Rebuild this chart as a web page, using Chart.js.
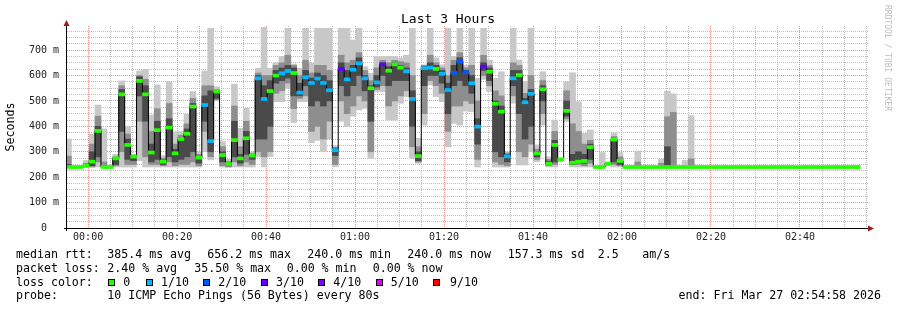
<!DOCTYPE html>
<html lang="en">
<head>
<meta charset="UTF-8">
<title>Last 3 Hours</title>
<style>
  html, body { margin: 0; padding: 0; background: #fff; }
  #wrap { position: relative; width: 897px; height: 310px; }
</style>
</head>
<body>
<div id="wrap"><canvas id="chart" width="897" height="310"></canvas></div>
<script src="https://cdn.jsdelivr.net/npm/chart.js@4"></script>
<script>
// one probe column every 80 s, first column centred at 23:55:33 (minutes relative to 00:00)
const firstColMin = -4.45;
const stepMin = 80 / 60;
const _ = null;

// median rtt per column (ms)
const medianMs = [
  240, 240, 240, 245, 261, 382, 240, 240, 274, 526,
  327, 281, 579, 526, 297, 385, 261, 395, 294, 350,
  371, 478, 277, 484, 342, 537, 287, 252, 346, 274,
  353, 285, 589, 508, 539, 600, 609, 618, 610, 533,
  593, 571, 588, 571, 542, 306, 626, 585, 623, 648,
  589, 550, 573, 644, 619, 644, 631, 617, 508, 283,
  629, 631, 626, 607, 543, 611, 655, 613, 570, 399,
  635, 615, 489, 458, 282, 589, 602, 495, 528, 294,
  546, 253, 327, 270, 461, 257, 261, 264, 318, 240,
  240, 253, 348, 264, 240, 240, 240, 240, 240, 240,
  240, 240, 240, 240, 240, 240, 240, 240, 240, 240,
  240, 240, 240, 240, 240, 240, 240, 240, 240, 240,
  240, 240, 240, 240, 240, 240, 240, 240, 240, 240,
  240, 240, 240, 240
];

// lost pings out of 10 per column
const lossTenths = [
  0, 0, 0, 0, 0, 0, 0, 0, 0, 0,
  0, 0, 0, 0, 0, 0, 0, 0, 0, 0,
  0, 0, 0, 1, 1, 0, 0, 0, 0, 0,
  0, 0, 1, 1, 0, 0, 1, 1, 0, 1,
  1, 1, 1, 1, 1, 1, 3, 1, 1, 1,
  1, 0, 1, 3, 0, 0, 0, 1, 1, 0,
  1, 1, 0, 1, 1, 2, 2, 2, 1, 1,
  3, 0, 0, 0, 1, 1, 0, 1, 1, 0,
  0, 0, 0, 0, 0, 0, 0, 0, 0, 0,
  0, 0, 0, 0, 0, 0, 0, 0, 0, 0,
  0, 0, 0, 0, 0, 0, 0, 0, 0, 0,
  0, 0, 0, 0, 0, 0, 0, 0, 0, 0,
  0, 0, 0, 0, 0, 0, 0, 0, 0, 0,
  0, 0, 0, 0
];

// smoke: fastest / slowest ping per column (ms)
const smokeMin = [
  240, _, _, 240, 240, 240, 240, _, 240, 240,
  240, 240, 265, 240, 240, 240, 240, 240, 240, 240,
  240, 240, 240, 300, 268, 500, 240, 240, 240, 240,
  240, 240, 280, 240, 281, 497, 497, 550, 415, 497,
  497, 336, 345, 300, 350, 241, 420, 399, 440, 465,
  471, 274, 537, 537, 425, 425, 491, 517, 274, 255,
  405, 563, 517, 497, 320, 412, 405, 460, 458, 240,
  585, 537, 240, 240, 240, 491, 248, 248, 300, 261,
  405, 240, 240, 262, 419, 240, 240, 240, 240, _,
  240, 245, 240, 240, _, _, 240, _, _, _,
  240, 240, 240, _, 240, 240, _, _, _, _,
  _, _, _, _, _, _, _, _, _, _,
  _, _, _, _, _, _, _, _, _, _,
  _, _, _, _
];
const smokeMax = [
  350, _, _, 266, 370, 484, 390, _, 290, 579,
  399, 290, 618, 624, 445, 563, 285, 576, 379, 380,
  448, 537, 300, 618, 786, 556, 340, 270, 566, 392,
  471, 300, 629, 790, 629, 650, 675, 786, 645, 629,
  786, 648, 786, 786, 786, 323, 786, 786, 740, 786,
  635, 609, 675, 675, 675, 675, 670, 680, 786, 353,
  642, 786, 670, 642, 786, 675, 786, 640, 786, 589,
  786, 661, 589, 615, 300, 786, 661, 576, 786, 327,
  615, 280, 425, 275, 576, 611, 497, 373, 386, _,
  297, 260, 375, 297, _, _, 303, _, _, _,
  272, 539, 528, _, 266, 442, _, _, _, _,
  _, _, _, _, _, _, _, _, _, _,
  _, _, _, _, _, _, _, _, _, _,
  _, _, _, _
];

// smoke: 2nd..9th ping band
const midLo = [
  240, _, _, 240, 240, 260, 240, _, 245, 300,
  250, 250, 420, 280, 250, 250, 245, 260, 245, 250,
  250, 260, 245, 380, 280, 505, 245, 240, 260, 245,
  260, 250, 300, 280, 300, 530, 540, 570, 470, 510,
  520, 380, 400, 350, 420, 250, 500, 450, 480, 520,
  500, 300, 545, 560, 480, 500, 520, 540, 320, 260,
  450, 580, 560, 530, 380, 480, 480, 500, 490, 270,
  600, 560, 260, 250, 245, 520, 300, 280, 330, 270,
  450, 245, 250, _, 430, 250, 250, 245, 255, _,
  _, _, 250, 245, _, _, 240, _, _, _,
  240, 240, 240, _, _, 240, _, _, _, _,
  _, _, _, _, _, _, _, _, _, _,
  _, _, _, _, _, _, _, _, _, _,
  _, _, _, _
];
const midHi = [
  283, _, _, 255, 330, 440, 260, _, 280, 560,
  370, 285, 600, 585, 380, 470, 275, 490, 330, 365,
  410, 510, 290, 560, 560, 545, 320, 262, 480, 320,
  420, 292, 610, 600, 600, 640, 650, 680, 640, 600,
  660, 610, 640, 640, 620, 318, 680, 650, 660, 690,
  620, 580, 630, 660, 650, 660, 655, 650, 600, 320,
  640, 680, 650, 630, 600, 660, 690, 630, 640, 500,
  680, 640, 540, 520, 295, 650, 640, 530, 600, 310,
  580, 270, 380, _, 540, 410, 380, 330, 345, _,
  _, _, 360, 280, _, _, 260, _, _, _,
  255, 438, 455, _, _, 272, _, _, _, _,
  _, _, _, _, _, _, _, _, _, _,
  _, _, _, _, _, _, _, _, _, _,
  _, _, _, _
];

// smoke: middle pings band
const coreLo = [
  240, _, _, _, 245, 280, _, _, 250, 380,
  270, 265, 520, 420, 260, 270, 250, 280, 260, 270,
  280, 300, 255, 420, 300, 510, 260, 245, 280, 255,
  290, 270, 350, 350, 400, 570, 580, 590, 520, 520,
  560, 480, 500, 480, 500, 285, 560, 520, 560, 600,
  540, 420, 555, 600, 560, 580, 580, 580, 400, 265,
  560, 600, 600, 570, 450, 560, 580, 560, 530, 330,
  620, 580, 300, 280, 260, 560, 450, 350, 400, 280,
  500, 248, 260, _, 440, 250, 255, 255, 270, _,
  _, _, 260, 250, _, _, _, _, _, _,
  _, 240, _, _, _, _, _, _, _, _,
  _, _, _, _, _, _, _, _, _, _,
  _, _, _, _, _, _, _, _, _, _,
  _, _, _, _
];
const coreHi = [
  250, _, _, _, 300, 400, _, _, 276, 545,
  350, 283, 595, 560, 330, 420, 268, 430, 310, 355,
  390, 490, 283, 520, 540, 541, 300, 257, 420, 290,
  380, 290, 600, 560, 580, 620, 630, 640, 630, 570,
  620, 590, 610, 600, 580, 312, 650, 620, 640, 670,
  600, 560, 600, 650, 635, 650, 640, 630, 540, 300,
  635, 650, 640, 620, 570, 640, 670, 620, 600, 430,
  650, 630, 500, 480, 290, 620, 620, 510, 545, 300,
  560, 262, 345, _, 500, 290, 300, 290, 330, _,
  _, _, 350, 270, _, _, _, _, _, _,
  _, 320, _, _, _, _, _, _, _, _,
  _, _, _, _, _, _, _, _, _, _,
  _, _, _, _, _, _, _, _, _, _,
  _, _, _, _
];

// axis ticks
const xGridMinutes = [0, 5, 10, 15, 20, 25, 30, 35, 40, 45, 50, 55, 60, 65, 70, 75, 80, 85,
  90, 95, 100, 105, 110, 115, 120, 125, 130, 135, 140, 145, 150, 155, 160, 165, 170, 175];
const xLabelMinutes = [0, 20, 40, 60, 80, 100, 120, 140, 160];
const xLabels = ['00:00', '00:20', '00:40', '01:00', '01:20', '01:40', '02:00', '02:20', '02:40'];
const yGridMs = [0, 25, 50, 75, 100, 125, 150, 175, 200, 225, 250, 275, 300, 325, 350, 375,
  400, 425, 450, 475, 500, 525, 550, 575, 600, 625, 650, 675, 700, 725, 750, 775];
const yLabelMs = [0, 100, 200, 300, 400, 500, 600, 700];
const yLabels = ['0  ', '100 m', '200 m', '300 m', '400 m', '500 m', '600 m', '700 m'];

const lossColor = { 0: '#26ff00', 1: '#00b8ff', 2: '#0059ff', 3: '#5e00ff', 4: '#7e00ff', 5: '#dd00ff', 9: '#ff0000' };
const lossLegend = [['0', 0], ['1/10', 1], ['2/10', 2], ['3/10', 3], ['4/10', 4], ['5/10', 5], ['9/10', 9]];

const MONO = '"DejaVu Sans Mono", monospace';

const colX = medianMs.map((m, k) => firstColMin + k * stepMin);

function band(lo, hi) {
  return colX.map((x, k) => ({ x: x, y: (lo[k] == null || hi[k] == null) ? null : [lo[k], hi[k]] }));
}

const barCommon = {
  type: 'bar',
  grouped: false,
  barPercentage: 1,
  categoryPercentage: 1,
  borderWidth: 0
};

// header, legend block and axis arrows, rrdtool style
const rrdDecor = {
  id: 'rrdDecor',
  afterDraw(chart) {
    const c = chart.ctx;
    const a = chart.chartArea;
    c.save();

    // axes with arrows
    c.strokeStyle = '#000';
    c.lineWidth = 1;
    c.beginPath();
    c.moveTo(a.left - 0.5, a.bottom + 3);
    c.lineTo(a.left - 0.5, a.top - 2);
    c.moveTo(a.left - 3, a.bottom + 0.5);
    c.lineTo(a.right + 1, a.bottom + 0.5);
    c.stroke();
    c.fillStyle = '#9b1c1c';
    c.beginPath();
    c.moveTo(a.left - 0.5, a.top - 6);
    c.lineTo(a.left - 3.5, a.top);
    c.lineTo(a.left + 2.5, a.top);
    c.closePath();
    c.fill();
    c.beginPath();
    c.moveTo(a.right + 6, a.bottom + 0.5);
    c.lineTo(a.right, a.bottom - 2.5);
    c.lineTo(a.right, a.bottom + 3.5);
    c.closePath();
    c.fill();

    // title
    c.fillStyle = '#000';
    c.font = '13px ' + MONO;
    c.textAlign = 'center';
    c.textBaseline = 'middle';
    c.fillText('Last 3 Hours', 448, 20);

    // vertical axis title
    c.save();
    c.translate(11, 127);
    c.rotate(-Math.PI / 2);
    c.font = '11.6px ' + MONO;
    c.fillText('Seconds', 0, 0);
    c.restore();

    // watermark
    c.save();
    c.translate(887, 5);
    c.rotate(Math.PI / 2);
    c.font = '8px ' + MONO;
    c.fillStyle = '#bdbdbd';
    c.textAlign = 'left';
    c.fillText('RRDTOOL / TOBI OETIKER', 0, 0);
    c.restore();

    // legend block
    c.font = '11.6px ' + MONO;
    c.textAlign = 'left';
    c.fillStyle = '#000';
    const rows = [
      [255, [[16, 'median rtt:'], [107.3, '385.4 ms avg'], [207.3, '656.2 ms max'], [307.3, '240.0 ms min'],
        [407.3, '240.0 ms now'], [507.7, '157.3 ms sd'], [597.7, '2.5'], [642.3, 'am/s']]],
      [268.5, [[16, 'packet loss:'], [107.3, '2.40 % avg'], [194.3, '35.50 % max'], [286.7, '0.00 % min'],
        [372.7, '0.00 % now']]],
      [282.5, [[16, 'loss color:']]],
      [296, [[16, 'probe:'], [107.3, '10 ICMP Echo Pings (56 Bytes) every 80s']]]
    ];
    rows.forEach(([y, parts]) => parts.forEach(([x, t]) => c.fillText(t, x, y)));
    c.textAlign = 'right';
    c.fillText('end: Fri Mar 27 02:54:58 2026', 881, 296);

    // loss colour swatches
    c.textAlign = 'left';
    const swatchX = [108, 146, 203, 261, 318, 376, 433];
    const labelX = [123.3, 161, 218.3, 276, 333.3, 390.7, 450];
    lossLegend.forEach(([txt, n], i) => {
      c.fillStyle = lossColor[n];
      c.fillRect(swatchX[i], 279, 7, 7);
      c.strokeStyle = '#000';
      c.strokeRect(swatchX[i] + 0.5, 279.5, 6, 6);
      c.fillStyle = '#000';
      c.fillText(txt, labelX[i], 282.5);
    });

    c.restore();
  }
};

const majorGrid = 'rgba(235, 110, 110, 0.8)';
const minorGrid = 'rgba(170, 170, 170, 0.75)';

new Chart(document.getElementById('chart'), {
  type: 'line',
  data: {
    datasets: [
      Object.assign({}, barCommon, {
        label: 'loss',
        order: 0,
        data: colX.map((x, k) => ({ x: x, y: [medianMs[k] - 6, medianMs[k] + 6] })),
        backgroundColor: lossTenths.map(n => lossColor[n])
      }),
      {
        type: 'line',
        label: 'median',
        order: 1,
        data: colX.map((x, k) => ({ x: x, y: medianMs[k] })),
        stepped: 'middle',
        borderColor: '#000',
        borderWidth: 1,
        pointRadius: 0,
        fill: false
      },
      Object.assign({}, barCommon, { label: 'core', order: 2, data: band(coreLo, coreHi), backgroundColor: '#4a4a4a' }),
      Object.assign({}, barCommon, { label: 'mid', order: 3, data: band(midLo, midHi), backgroundColor: '#8e8e8e' }),
      Object.assign({}, barCommon, { label: 'smoke', order: 4, data: band(smokeMin, smokeMax), backgroundColor: '#c8c8c8' })
    ]
  },
  options: {
    responsive: false,
    animation: false,
    devicePixelRatio: 1,
    layout: { padding: { left: 0, right: 29, top: 26, bottom: 0 } },
    plugins: {
      legend: { display: false },
      tooltip: { enabled: false },
      title: { display: false }
    },
    scales: {
      x: {
        type: 'linear',
        min: -4.75,
        max: 175.3,
        offset: false,
        z: 1,
        afterBuildTicks: s => { s.ticks = xGridMinutes.map(v => ({ value: v })); },
        afterFit: s => { s.height = 82; },
        border: { display: false, dash: [1, 1] },
        grid: {
          offset: false,
          drawTicks: false,
          lineWidth: 1,
          color: ctx => (ctx.tick && ctx.tick.value % 20 === 0) ? majorGrid : minorGrid
        },
        ticks: {
          autoSkip: false,
          maxRotation: 0,
          padding: 3,
          color: '#222',
          font: { family: MONO, size: 10 },
          callback: v => {
            const i = xLabelMinutes.indexOf(v);
            return i >= 0 ? xLabels[i] : '';
          }
        }
      },
      y: {
        min: 0,
        max: 795,
        z: 1,
        afterBuildTicks: s => { s.ticks = yGridMs.map(v => ({ value: v })); },
        afterFit: s => { s.width = 67; },
        border: { display: false, dash: [1, 1] },
        grid: {
          drawTicks: false,
          lineWidth: 1,
          color: ctx => (ctx.tick && ctx.tick.value % 100 === 0) ? majorGrid : minorGrid
        },
        ticks: {
          autoSkip: false,
          padding: 8,
          color: '#222',
          font: { family: MONO, size: 10 },
          callback: v => {
            const i = yLabelMs.indexOf(v);
            return i >= 0 ? yLabels[i] : '';
          }
        }
      }
    }
  },
  plugins: [rrdDecor]
});
</script>
</body>
</html>
